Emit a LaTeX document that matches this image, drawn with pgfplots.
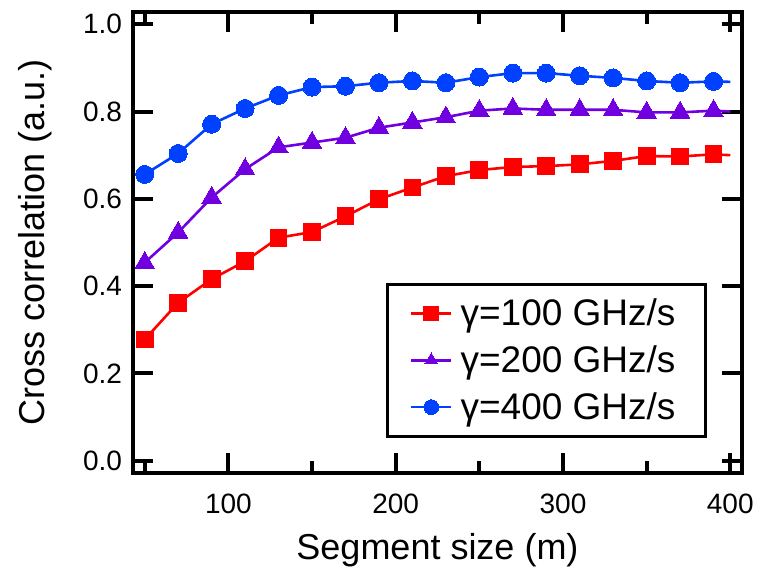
\documentclass[border=0pt]{standalone}
\usepackage{pgfplots}
\pgfplotsset{compat=1.18}
\usepackage{fontspec}
\setmainfont{Liberation Sans}
\definecolor{cred}{RGB}{255,0,0}
\definecolor{cpurple}{RGB}{112,0,224}
\definecolor{cblue}{RGB}{0,64,255}
\begin{document}
\begin{tikzpicture}
\begin{axis}[
  scale only axis,
  width=304.5pt, height=230.5pt,
  xmin=43, xmax=407, ymin=-0.028, ymax=1.028,
  xtick={100,200,300,400},
  minor xtick={50,150,250,350},
  ytick={0,0.2,0.4,0.6,0.8,1.0},
  yticklabel style={/pgf/number format/fixed,/pgf/number format/fixed zerofill,/pgf/number format/precision=1},
  /pgf/number format/assume math mode=true,
  tick label style={font=\fontsize{14}{16}\selectfont},
  xticklabel style={yshift=-7pt},
  yticklabel style={xshift=-2pt},
  axis line style={line width=2pt},
  every tick/.style={black,line width=2pt},
  major tick length=10pt, minor tick length=6pt,
  xlabel={Segment size (m)},
  ylabel={Cross correlation (a.u.)},
  label style={font=\fontsize{18}{21}\selectfont},
  xlabel style={at={(axis description cs:0.5,-0.167)},anchor=center},
  ylabel style={at={(axis description cs:-0.161,0.5)},anchor=center},
  legend style={at={(axis description cs:0.9425,0.412)},anchor=north east,
    draw=black,line width=1.5pt,font=\fontsize{18.5}{22}\selectfont,
    inner xsep=11pt,inner ysep=5pt,row sep=4.5pt,
    nodes={inner xsep=4pt}},
  legend cell align=left,
  legend image code/.code={\draw[mark indices={2},mark size=3.7pt] plot coordinates {(0pt,0pt) (10pt,0pt) (20pt,0pt)};},
]
\coordinate (ll) at (rel axis cs:0,0);
\coordinate (ur) at (rel axis cs:1,1);
\addplot[cred,line width=1.3pt,mark=square*,mark size=4.2pt,mark options={line width=0pt},mark indices={1,...,18}] coordinates {
(50,0.278) (70,0.362) (90,0.416) (110,0.457) (130,0.511) (150,0.524) (170,0.560) (190,0.599) (210,0.626) (230,0.652) (250,0.666) (270,0.673) (290,0.675) (310,0.679) (330,0.687) (350,0.698) (370,0.697) (390,0.702) (400,0.700)};
\addlegendentry{γ=100 GHz/s}
\addplot[cpurple,line width=1.3pt,mark=triangle*,mark size=5.6pt,mark options={line width=0pt},mark indices={1,...,18}] coordinates {
(50,0.454) (70,0.523) (90,0.603) (110,0.668) (130,0.718) (150,0.729) (170,0.740) (190,0.763) (210,0.775) (230,0.787) (250,0.802) (270,0.807) (290,0.804) (310,0.804) (330,0.804) (350,0.798) (370,0.798) (390,0.802) (400,0.800)};
\addlegendentry{γ=200 GHz/s}
\addplot[cblue,line width=1.3pt,mark=*,mark size=4.5pt,mark options={line width=0pt},mark indices={1,...,18}] coordinates {
(50,0.656) (70,0.704) (90,0.771) (110,0.807) (130,0.837) (150,0.856) (170,0.858) (190,0.866) (210,0.870) (230,0.866) (250,0.879) (270,0.888) (290,0.888) (310,0.882) (330,0.877) (350,0.870) (370,0.866) (390,0.869) (400,0.868)};
\addlegendentry{γ=400 GHz/s}
\end{axis}
\pgfresetboundingbox
\useasboundingbox ([shift={(-66.5pt,-53.5pt)}]ll) rectangle ([shift={(9.5pt,6pt)}]ur);
\end{tikzpicture}
\end{document}
